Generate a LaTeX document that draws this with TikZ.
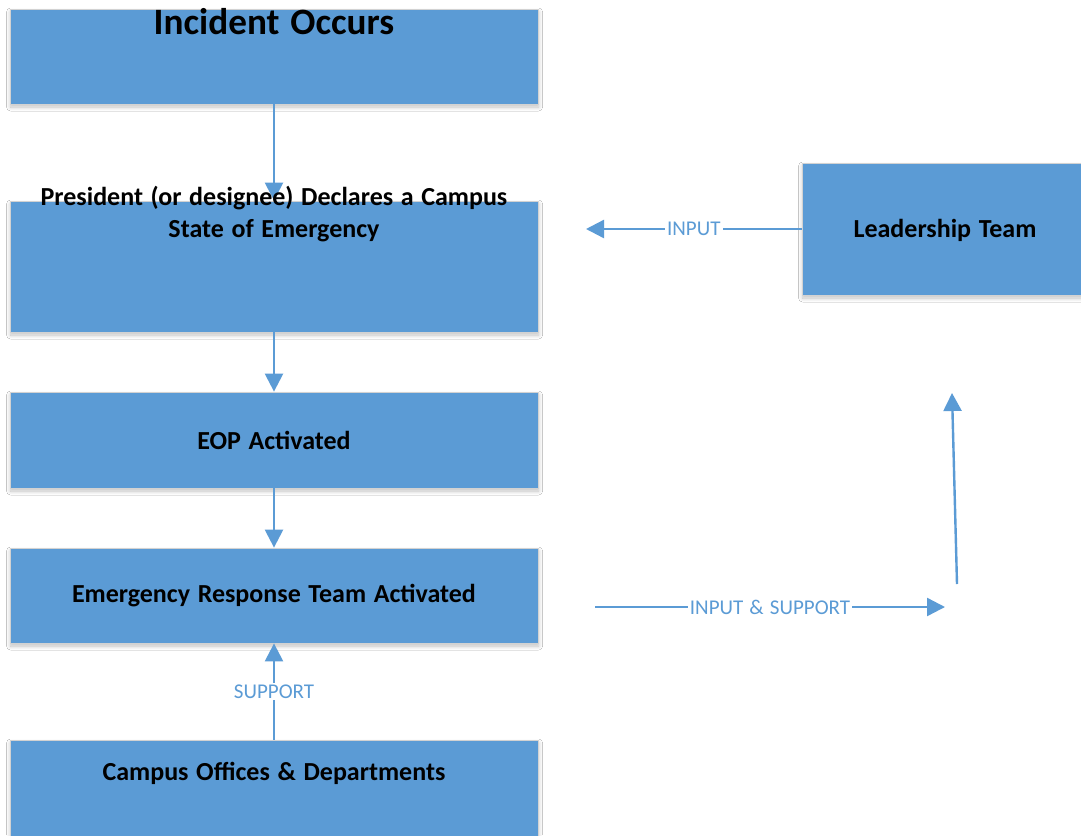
\documentclass[tikz,border=0pt]{standalone}
\usepackage{fontspec}
\setmainfont[WordSpace=1.3]{Carlito}
\usetikzlibrary{arrows.meta,shadows.blur}
\definecolor{boxblue}{RGB}{91,155,213}
\definecolor{edgegray}{RGB}{210,210,210}

\begin{document}
\begin{tikzpicture}[x=0.5pt, y=-0.5pt,
  box/.style={draw=edgegray, line width=0.4pt, rectangle, fill=boxblue, minimum width=264pt, inner sep=0pt,
    blur shadow={shadow xshift=0.3pt, shadow yshift=-1.5pt, shadow blur steps=8, shadow blur radius=2pt, shadow opacity=25}},
  boxtext/.style={font=\bfseries\fontsize{13}{16}\selectfont, align=center, inner sep=0pt},
  flow/.style={draw=boxblue, line width=1.2pt, -{Triangle[length=9pt, width=9pt]}},
  tag/.style={fill=white, text=boxblue, font=\fontsize{10.5}{12}\selectfont, inner sep=1pt}]
\clip (0,0) rectangle (1081,835);
\fill[white] (0,0) rectangle (1081,835);

% Main flow boxes
\node[box, minimum height=47.5pt] (incident) at (274,56.5) {};
\node[box, minimum height=65.5pt] (president) at (274,266.5) {};
\node[box, minimum height=48pt] (eop) at (274,440) {};
\node[box, minimum height=47.5pt] (ert) at (274,595.5) {};
\node[box, minimum height=65pt] (campus) at (274,805) {};
\node[box, minimum width=143pt, minimum height=66pt] (leader) at (945,229) {};

% Free ends
\coordinate (inputend) at (586,229);
\coordinate (supstart) at (595,607);
\coordinate (supend) at (945,607);
\coordinate (upstart) at (957,584);
\coordinate (upend) at (952,393);

% Connections
\draw[flow] (incident) -- (president);
\draw[flow] (president) -- (eop);
\draw[flow] (eop) -- (ert);
\draw[flow] (campus) -- node[tag] {SUPPORT} (ert);
\draw[flow] (leader) -- node[tag] {INPUT} (inputend);
\draw[flow] (supstart) -- node[tag] {INPUT \& SUPPORT} (supend);
\draw[flow] (upstart) -- (upend);

% Box texts
\node[boxtext, font=\bfseries\fontsize{18.6}{22}\selectfont] (incidenttxt) at (274,22) {Incident Occurs};
\node[boxtext] (presidenttxt) at (274,214) {President (or designee) Declares a Campus\\State of Emergency};
\node[boxtext] (eoptxt) at (274,440) {EOP Activated};
\node[boxtext] (erttxt) at (274,596) {Emergency Response Team Activated};
\node[boxtext] (campustxt) at (274,773) {Campus Offices \& Departments};
\node[boxtext] (leadertxt) at (945,230) {Leadership Team};
\end{tikzpicture}
\end{document}
